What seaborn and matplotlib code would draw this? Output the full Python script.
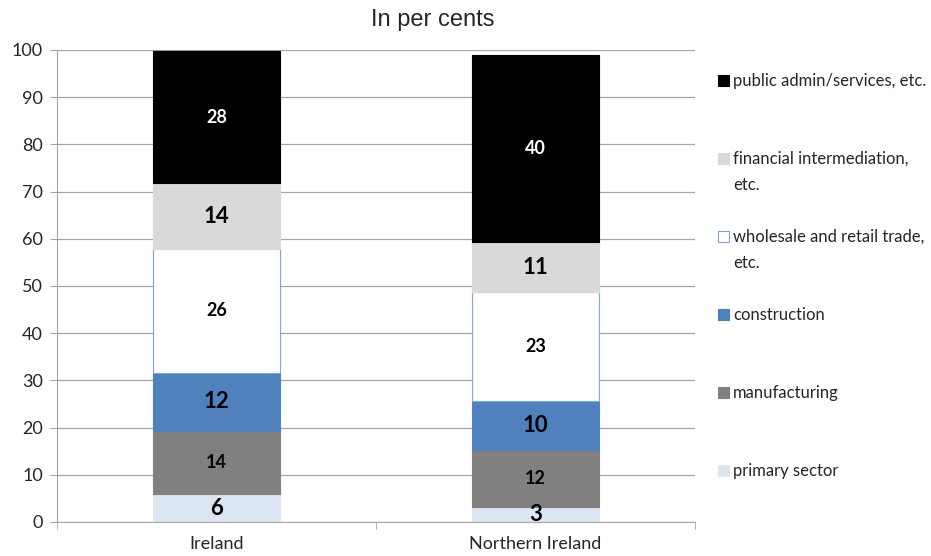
import numpy as np
import pandas as pd
import seaborn as sns
from matplotlib import pyplot as plt
from matplotlib.patches import Patch
from matplotlib.text import Annotation

# Data (per cent shares)
regions = ["Ireland", "Northern Ireland"]
sectors = ["primary sector", "manufacturing", "construction",
           "wholesale and retail trade,", "financial intermediation,",
           "public admin/services, etc."]
second_line = {"wholesale and retail trade,": "etc.", "financial intermediation,": "etc."}
primary = [5.9, 3.2]
manufacturing = [13.4, 12.1]
construction = [12.3, 10.3]
wholesale = [26.2, 23.1]
financial = [14.0, 10.6]
public = [28.0, 39.6]
labels = {
    "primary sector": ["6", "3"],
    "manufacturing": ["14", "12"],
    "construction": ["12", "10"],
    "wholesale and retail trade,": ["26", "23"],
    "financial intermediation,": ["14", "11"],
    "public admin/services, etc.": ["28", "40"],
}
values = [primary, manufacturing, construction, wholesale, financial, public]

# styling per sector
colors = ["#DCE6F2", "#808080", "#4F81BD", "#FFFFFF", "#D9D9D9", "#000000"]
edges = ["#DCE6F2", "#808080", "#4F81BD", "#7EA6D6", "#D9D9D9", "#000000"]
txt_colors = ["black", "black", "black", "black", "black", "white"]
txt_sizes = [16, 13, 16, 13, 16, 13]

sns.set_style("white")
plt.rcParams['font.family'] = ['Lato', 'DejaVu Sans']

fig = plt.figure(figsize=(9.31, 5.56), dpi=100)
ax = fig.add_axes([0.0612, 0.0612, 0.6853, 0.8489])

bottom = np.zeros(len(regions))
for i, (name, vals) in enumerate(zip(sectors, values)):
    df = pd.DataFrame({"region": regions, "value": vals})
    sns.barplot(data=df, x="region", y="value", bottom=bottom, color=colors[i],
                edgecolor=edges[i], linewidth=0.8, width=0.4, errorbar=None,
                saturation=1, ax=ax)
    cont = ax.containers[-1]
    ax.bar_label(cont, labels=labels[name], label_type="center",
                 fontsize=txt_sizes[i], fontweight="bold", color=txt_colors[i])
    bottom = bottom + np.array(vals)

ax.set_ylim(0, 100)
ax.set_xlim(-0.5, 1.5)
ax.set_yticks(range(0, 101, 10))
ax.yaxis.grid(True, color="#A6A6A6", linewidth=0.9)
ax.set_axisbelow(True)
ax.set_xlabel("")
ax.set_ylabel("")
for s in ["top", "right"]:
    ax.spines[s].set_visible(False)
ax.spines["left"].set_color("#A6A6A6")
ax.spines["bottom"].set_color("#A6A6A6")

# category boundary ticks on x axis
ax.set_xticks([-0.5, 0.5, 1.5], minor=True)
ax.tick_params(axis="x", which="minor", length=5, color="#A6A6A6", direction="out", bottom=True)
ax.tick_params(axis="x", which="major", length=0, labelsize=13, pad=10)
ax.tick_params(axis="y", length=5, color="#A6A6A6", direction="out", left=True, labelsize=13, pad=5)

fig.text(0.465, 1 - 20 / 556, "In per cents", fontsize=17, family="Liberation Sans",
         ha="center", va="center")

handles = [Patch(facecolor=colors[i], edgecolor=edges[i], linewidth=0.8, label=sectors[i])
           for i in range(len(sectors))][::-1]
leg = fig.legend(handles=handles, loc="upper left", bbox_to_anchor=(718 / 931, 1 - 73 / 556),
                 frameon=False, fontsize=12, handlelength=0.65, handleheight=0.65,
                 handletextpad=0.25, labelspacing=3.72, borderpad=0, borderaxespad=0)
# second lines of the wrapped legend labels sit under the first line
for t in leg.get_texts():
    extra = second_line.get(t.get_text())
    if extra:
        fig.add_artist(Annotation(extra, xy=(0, 0), xycoords=t, xytext=(0, -26),
                                  textcoords="offset pixels", fontsize=12,
                                  ha="left", va="bottom", zorder=10))

fig.savefig("out.png", dpi=100)
